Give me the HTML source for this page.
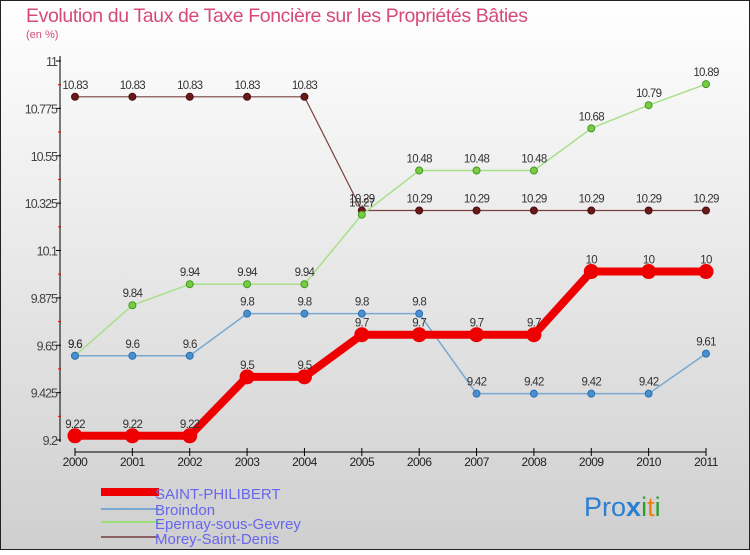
<!DOCTYPE html>
<html><head><meta charset="utf-8"><style>
body{margin:0}
#c{width:750px;height:550px;position:relative;font-family:"Liberation Sans",sans-serif;}
</style></head><body>
<div id="c">
<svg id="s" width="750" height="550" xmlns="http://www.w3.org/2000/svg">
<defs><linearGradient id="bg" x1="0" y1="0" x2="0" y2="1"><stop offset="0" stop-color="#ffffff"/><stop offset="1" stop-color="#cfcfcf"/></linearGradient></defs>
<rect x="0.5" y="0.5" width="749" height="549" fill="url(#bg)" stroke="#222"/>
<text x="26" y="22" font-size="19.5" fill="#d64a7a" textLength="502">Evolution du Taux de Taxe Foncière sur les Propriétés Bâties</text>
<text x="26" y="38" font-size="11" fill="#d64a7a">(en %)</text>
<g id="axes"></g><g id="series"></g>
<g>
<rect x="101" y="488" width="58" height="8" fill="#e00"/>
<text x="155" y="499" font-size="15" fill="#6666ee">SAINT-PHILIBERT</text>
<line x1="101" y1="509" x2="159" y2="509" stroke="#7aa8d0" stroke-width="2"/>
<text x="155" y="515" font-size="15" fill="#6666ee">Broindon</text>
<line x1="101" y1="522" x2="159" y2="522" stroke="#99dd77" stroke-width="2"/>
<text x="155" y="529" font-size="15" fill="#6666ee">Epernay-sous-Gevrey</text>
<line x1="101" y1="537" x2="159" y2="537" stroke="#8a6060" stroke-width="2"/>
<text x="155" y="544" font-size="15" fill="#6666ee">Morey-Saint-Denis</text>
</g>
<g font-size="27">
<text x="584" y="516"><tspan fill="#2a7fd0">Pro</tspan><tspan fill="#2a7fd0" font-weight="bold">x</tspan><tspan fill="#2ca02c">i</tspan><tspan fill="#f07f10">t</tspan><tspan fill="#2ca02c">i</tspan></text>
</g>
</svg></div>
<script>
const years=[2000,2001,2002,2003,2004,2005,2006,2007,2008,2009,2010,2011];
const yTicks=[9.2,9.425,9.65,9.875,10.1,10.325,10.55,10.775,11];
const yTickLabels=["9.2","9.425","9.65","9.875","10.1","10.325","10.55","10.775","11"];
const saintPhilibert=[9.22,9.22,9.22,9.5,9.5,9.7,9.7,9.7,9.7,10,10,10];
const broindon=[9.6,9.6,9.6,9.8,9.8,9.8,9.8,9.42,9.42,9.42,9.42,9.61];
const epernay=[9.6,9.84,9.94,9.94,9.94,10.27,10.48,10.48,10.48,10.68,10.79,10.89];
const morey=[10.83,10.83,10.83,10.83,10.83,10.29,10.29,10.29,10.29,10.29,10.29,10.29];
const NS="http://www.w3.org/2000/svg";
const x=i=>75+i*(706-75)/(years.length-1);
const y=v=>440-(v-9.2)*(440-61)/(11-9.2);
function mk(t,a,p){const e=document.createElementNS(NS,t);for(const k in a)e.setAttribute(k,a[k]);p.appendChild(e);return e;}
const ax=document.getElementById('axes');
let e=mk('line',{x1:60,y1:56,x2:60,y2:442,stroke:'#000'},ax);


yTicks.forEach((v,i)=>{
 mk('line',{x1:56,y1:y(v),x2:61,y2:y(v),stroke:'#000'},ax);
 if(i<yTicks.length-1){const m=(v+yTicks[i+1])/2;mk('line',{x1:58,y1:y(m),x2:61,y2:y(m),stroke:'#e00'},ax);}
 const t=mk('text',{x:57,y:y(v)+5,'font-size':12.5,'text-anchor':'end',fill:'#444','letter-spacing':'-1'},ax);
 t.textContent=yTickLabels[i];
 
 
});
e=mk('line',{x1:75,y1:452,x2:706,y2:452,stroke:'#000'},ax);


years.forEach((yr,i)=>{
 mk('line',{x1:x(i),y1:448,x2:x(i),y2:456,stroke:'#000'},ax);
 const t=mk('text',{x:x(i),y:466,'font-size':12,'text-anchor':'middle',fill:'#222','letter-spacing':'-0.5'},ax);
 t.textContent=yr;
 
 
});
const sg=document.getElementById('series');
function series(d,name,col,w,r,dot,stroke){
 const g=mk('g',{},sg);
 
 
 mk('polyline',{points:d.map((v,i)=>x(i)+','+y(v)).join(' '),fill:'none',stroke:col,'stroke-width':w},g);
 d.forEach((v,i)=>{
  const c=mk('circle',{cx:x(i),cy:y(v),r:r,fill:dot,stroke:stroke,'stroke-width':1},g);
  
  
  const t=mk('text',{x:x(i),y:y(v)-8,'font-size':11.5,'text-anchor':'middle',fill:'#333','letter-spacing':'-0.7'},g);
  t.textContent=String(v);
  
  
 });
}
series(morey,'morey-saint-denis','#7a4040',1.2,3.5,'#6a1818','#4a1010');
series(epernay,'epernay-sous-gevrey','#a8e088',1.5,3.5,'#77cc44','#449922');
series(broindon,'broindon','#7aa8d0',1.5,3.5,'#4a90d0','#2a70b0');
series(saintPhilibert,'saint-philibert','#ee0000',8,7,'#ee0000','#ee0000');
</script>
</body></html>
